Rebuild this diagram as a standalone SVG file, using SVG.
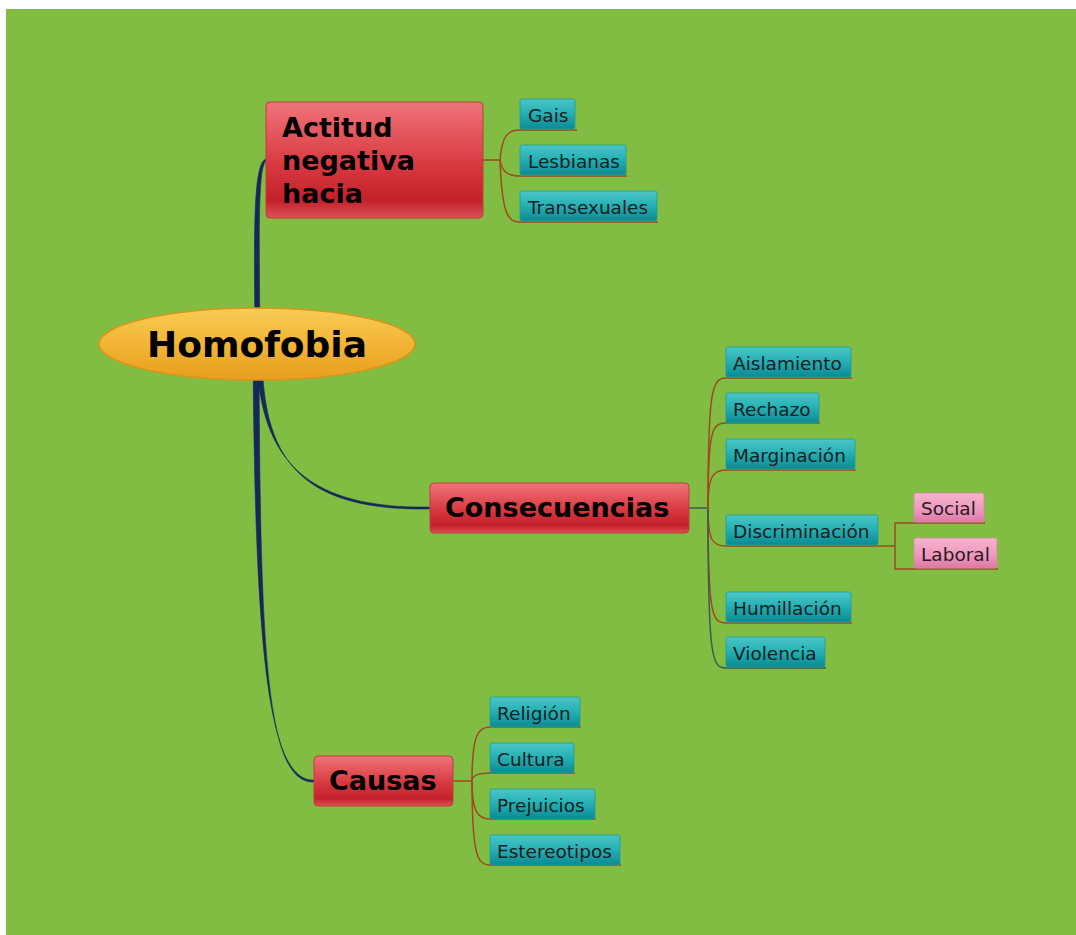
<svg xmlns="http://www.w3.org/2000/svg" width="1076" height="935" viewBox="0 0 1076 935">
<defs>
<linearGradient id="gTeal" x1="0" y1="0" x2="0" y2="1">
<stop offset="0" stop-color="#4AC6C6"/><stop offset="0.5" stop-color="#24AFB4"/><stop offset="1" stop-color="#0A8A93"/>
</linearGradient>
<linearGradient id="gRed" x1="0" y1="0" x2="0" y2="1">
<stop offset="0" stop-color="#F0747B"/><stop offset="0.55" stop-color="#D8383F"/><stop offset="0.85" stop-color="#C3212A"/><stop offset="1" stop-color="#DC5257"/>
</linearGradient>
<linearGradient id="gGold" x1="0" y1="0" x2="0" y2="1">
<stop offset="0" stop-color="#F9CC55"/><stop offset="0.6" stop-color="#F0B030"/><stop offset="1" stop-color="#E89E1E"/>
</linearGradient>
<linearGradient id="gPink" x1="0" y1="0" x2="0" y2="1">
<stop offset="0" stop-color="#F7B4CF"/><stop offset="0.6" stop-color="#EE97BC"/><stop offset="1" stop-color="#DD78A4"/>
</linearGradient>
<style>
.teal{fill:url(#gTeal);stroke:#1E9CA2;stroke-width:0.8}
.red{fill:url(#gRed);stroke:#C23C3C;stroke-width:1}
.pink{fill:url(#gPink);stroke:#D985AA;stroke-width:0.8}
.t{font-family:"DejaVu Sans","Verdana",sans-serif;font-size:18.5px;fill:#142020}
.tp{font-family:"DejaVu Sans","Verdana",sans-serif;font-size:18.5px;fill:#2A1A22}
.big{font-family:"DejaVu Sans","Verdana",sans-serif;font-weight:bold;font-size:27px;fill:#000}
.br{fill:none;stroke:#A04A1E;stroke-width:1.5}
.dk{fill:none;stroke:#3C5A58;stroke-width:1.5}
.main{fill:#14285A;stroke:#14285A;stroke-width:0.6}
</style>
</defs>
<rect x="6" y="9" width="1070" height="926" fill="#80BD42"/>
<g id="connectors">
<path class="main" d="M255,340 C254,230 253,163 266,159 L266,161 C258,167 259,230 260,340 Z"/>
<path class="main" d="M256,350 C259,455 300,509 430,507 L430,509 C298,511 262,458 262,350 Z"/>
<path class="main" d="M253,350 C255,650 268,782 314,780 L314,782 C266,784 260,650 259,350 Z"/>
<path class="br" d="M483,160 L500,160"/>
<path class="br" d="M500,160 C502,135 508,130 520,130 L577,130"/>
<path class="br" d="M500,160 C502,172 508,176 520,176 L627,176"/>
<path class="br" d="M500,160 C502,215 508,222 520,222 L658,222"/>
<path class="dk" d="M689,508 L708,508"/>
<path class="br" d="M708,508 C708,390 712,378 726,378 L852,378"/>
<path class="br" d="M708,508 C708,430 712,423 726,423 L820,423"/>
<path class="br" d="M708,508 C708,478 712,470 726,470 L856,470"/>
<path class="br" d="M708,508 C708,540 712,546 726,546 L895,546"/>
<path class="br" d="M708,508 C708,615 712,623 726,623 L852,623"/>
<path class="dk" d="M708,508 C708,660 712,668 726,668 L826,668"/>
<path class="br" d="M895,546 L895,523 L985,523"/>
<path class="br" d="M895,546 L895,569 L998,569"/>
<path class="br" d="M453,781 L472,781"/>
<path class="br" d="M472,781 C472,735 478,727 490,727 L581,727"/>
<path class="br" d="M472,781 C472,776 478,773 490,773 L575,773"/>
<path class="br" d="M472,781 C472,812 478,819 490,819 L596,819"/>
<path class="br" d="M472,781 C472,858 478,865 490,865 L621,865"/>
</g>
<g id="homofobia">
<ellipse cx="257" cy="344" rx="158" ry="36" fill="url(#gGold)" stroke="#D8961A" stroke-width="1.5"/>
<text x="257" y="357" text-anchor="middle" font-family="DejaVu Sans, Verdana, sans-serif" font-weight="bold" font-size="36" fill="#000">Homofobia</text>
</g>
<g id="actitud">
<rect class="red" x="266" y="102" width="217" height="116" rx="4"/>
<text class="big" x="282" y="137">Actitud</text>
<text class="big" x="282" y="170">negativa</text>
<text class="big" x="282" y="203">hacia</text>
</g>
<g id="consecuencias">
<rect class="red" x="430" y="483" width="259" height="50" rx="4"/>
<text class="big" x="445" y="517">Consecuencias</text>
</g>
<g id="causas">
<rect class="red" x="314" y="756" width="139" height="50" rx="4"/>
<text class="big" x="329" y="790">Causas</text>
</g>
<g id="gais"><rect class="teal" x="520" y="99" width="55" height="30" rx="2"/><text class="t" x="528" y="122">Gais</text></g>
<g id="lesbianas"><rect class="teal" x="520" y="145" width="106" height="30" rx="2"/><text class="t" x="528" y="168">Lesbianas</text></g>
<g id="transexuales"><rect class="teal" x="520" y="191" width="137" height="30" rx="2"/><text class="t" x="528" y="214">Transexuales</text></g>
<g id="aislamiento"><rect class="teal" x="726" y="347" width="125" height="30" rx="2"/><text class="t" x="733" y="370">Aislamiento</text></g>
<g id="rechazo"><rect class="teal" x="726" y="393" width="93" height="30" rx="2"/><text class="t" x="733" y="416">Rechazo</text></g>
<g id="marginacion"><rect class="teal" x="726" y="439" width="129" height="30" rx="2"/><text class="t" x="733" y="462">Marginación</text></g>
<g id="discriminacion"><rect class="teal" x="726" y="515" width="152" height="30" rx="2"/><text class="t" x="733" y="538">Discriminación</text></g>
<g id="humillacion"><rect class="teal" x="726" y="592" width="125" height="30" rx="2"/><text class="t" x="733" y="615">Humillación</text></g>
<g id="violencia"><rect class="teal" x="726" y="637" width="99" height="30" rx="2"/><text class="t" x="733" y="660">Violencia</text></g>
<g id="social"><rect class="pink" x="914" y="493" width="70" height="29" rx="2"/><text class="tp" x="921" y="515">Social</text></g>
<g id="laboral"><rect class="pink" x="914" y="538" width="83" height="30" rx="2"/><text class="tp" x="921" y="561">Laboral</text></g>
<g id="religion"><rect class="teal" x="490" y="697" width="90" height="30" rx="2"/><text class="t" x="497" y="720">Religión</text></g>
<g id="cultura"><rect class="teal" x="490" y="743" width="84" height="30" rx="2"/><text class="t" x="497" y="766">Cultura</text></g>
<g id="prejuicios"><rect class="teal" x="490" y="789" width="105" height="30" rx="2"/><text class="t" x="497" y="812">Prejuicios</text></g>
<g id="estereotipos"><rect class="teal" x="490" y="835" width="130" height="30" rx="2"/><text class="t" x="497" y="858">Estereotipos</text></g>
</svg>
